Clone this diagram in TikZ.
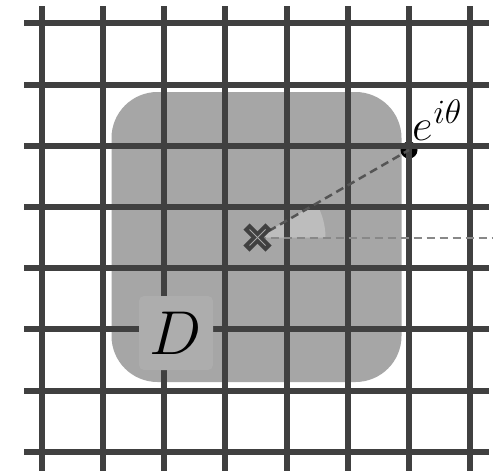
\RequirePackage{fix-cm}
\documentclass[tikz,border=0pt]{standalone}
\begin{document}
\begin{tikzpicture}[x=1pt,y=-1pt,
  gridline/.style={draw=gridc, line width=6pt, line cap=butt},
  regionfill/.style={fill=regc},
  wedgefill/.style={fill=wedgec},
  raydash/.style={draw=rayc, line width=2.5pt, dash pattern=on 8pt off 5pt},
  axisdash/.style={draw=axisc, line width=2pt, dash pattern=on 8pt off 5pt},
  crossarm/.style={draw=gridc, line width=8.5pt, line cap=butt},
  crossinner/.style={draw=crossin, line width=0.8pt},
  dbox/.style={fill=dboxc, rounded corners=5pt, minimum size=74pt, inner sep=0pt, font=\fontsize{62}{62}\selectfont},
  lbl/.style={anchor=base west, inner sep=0pt, font=\fontsize{45}{45}\selectfont}]
\definecolor{gridc}{HTML}{404040}
\definecolor{regc}{HTML}{A6A6A6}
\definecolor{wedgec}{HTML}{BDBDBD}
\definecolor{rayc}{HTML}{555555}
\definecolor{axisc}{HTML}{888888}
\definecolor{crossin}{HTML}{A8A8A8}
\definecolor{dboxc}{HTML}{ADADAD}
\fill[white] (0,0) rectangle (493,471);
\useasboundingbox (0,0) rectangle (493,471);
% region
\fill[regionfill, rounded corners=46pt] (111.5,92) rectangle (401.5,382);
\coordinate (c) at (257.5,237.5);
\coordinate (p) at (409,150);
\coordinate (r) at (493,237.5);
% angle wedge
\fill[wedgefill] (c) -- ++(68,0) arc[start angle=0, end angle=-30, radius=68] -- cycle;
% point on circle
\fill[black] (p) circle[radius=8.5];
% grid
\foreach \i in {0,...,7}{
  \draw[gridline] ({41.7+61.2*\i},6) -- ({41.7+61.2*\i},471);
  \draw[gridline] (24,{23.3+61.2*\i}) -- (489,{23.3+61.2*\i});
}
% dashed lines
\draw[axisdash] (c) -- (r);
\draw[raydash] (c) -- (p);
% cross
\draw[crossarm] (c) ++(-11,-11) -- ++(22,22);
\draw[crossarm] (c) ++(-11,11) -- ++(22,-22);
\draw[crossinner] (c) ++(-8,-8) -- ++(16,16);
\draw[crossinner] (c) ++(-8,8) -- ++(16,-16);
% labels
\node[dbox] (D) at (176,333) {$D$};
\node[lbl] (eith) at (412,140) {$e$\kern1pt\raisebox{17pt}{\fontsize{34}{34}\selectfont$i\theta$}};
\end{tikzpicture}
\end{document}
